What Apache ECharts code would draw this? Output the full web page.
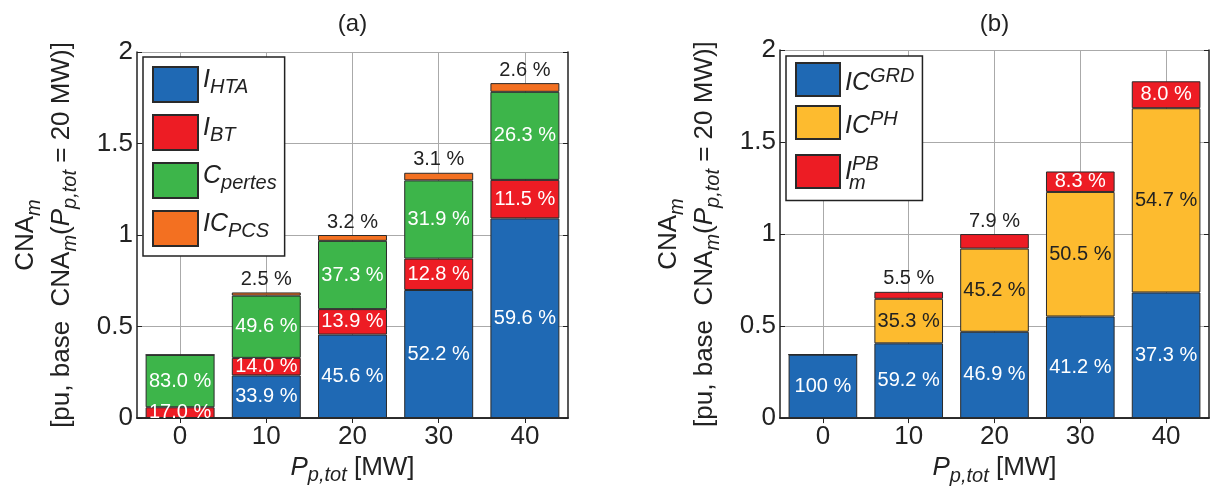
<!DOCTYPE html>
<html><head><meta charset="utf-8">
<script src="https://cdn.jsdelivr.net/npm/echarts@6/dist/echarts.min.js"></script>
<style>html,body{margin:0;padding:0;background:#fff}#c{width:1210px;height:494px}</style>
</head><body><div id="c"></div>
<script>
// ---------- data ----------
const categories = ['0', '10', '20', '30', '40'];           // P_p,tot [MW]
const totals = [0.345, 0.686, 1.0, 1.34, 1.83];              // CNA_m total (pu)
// panel (a) shares in %
const pctHTA    = [0, 33.9, 45.6, 52.2, 59.6];
const pctBT     = [17.0, 14.0, 13.9, 12.8, 11.5];
const pctPertes = [83.0, 49.6, 37.3, 31.9, 26.3];
const pctPCS    = [0, 2.5, 3.2, 3.1, 2.6];
// panel (b) shares in %
const pctGRD = [100, 59.2, 46.9, 41.2, 37.3];
const pctPH  = [0, 35.3, 45.2, 50.5, 54.7];
const pctPB  = [0, 5.5, 7.9, 8.3, 8.0];
const yMin = 0, yMax = 2, yStep = 0.5;
const titles = ['(a)', '(b)'];

// ---------- style ----------
const FONT = '"Liberation Sans", Arial, Helvetica, sans-serif';
const TXT = '#222';
const C = { blue: '#1f69b4', red: '#ed1c24', green: '#3db54a', orange: '#f37021', yellow: '#fdbb2f' };

function fmt(p) { return (p >= 100 ? p.toFixed(0) : p.toFixed(1)) + ' %'; }

function makeSeries(name, pcts, color, gi, opts) {
  opts = opts || {};
  return {
    name: name, type: 'bar', stack: 'g' + gi, xAxisIndex: gi * 2, yAxisIndex: gi * 2,
    barWidth: '80%',
    itemStyle: { color: color, borderColor: '#2a2a2a', borderWidth: 1 },
    emphasis: { disabled: true },
    data: pcts.map(function (p, i) {
      const v = totals[i] * p / 100;
      const onTop = opts.top && v < 0.1;
      return {
        value: v,
        label: {
          show: p > 0, position: onTop ? 'top' : 'inside', distance: 3,
          color: (onTop || opts.dark) ? TXT : '#fff',
          fontSize: 20, fontFamily: FONT, formatter: fmt(p)
        }
      };
    })
  };
}

const axisNameRichY = {
  b: { fontSize: 26, fontFamily: FONT, color: TXT, lineHeight: 36 },
  bi: { fontSize: 26, fontFamily: FONT, color: TXT, lineHeight: 36, fontStyle: 'italic' },
  sub: { fontSize: 20, fontFamily: FONT, color: TXT, lineHeight: 6, verticalAlign: 'bottom', fontStyle: 'italic' }
};
const axisNameRichX = {
  b: { fontSize: 26, fontFamily: FONT, color: TXT, lineHeight: 28, padding: [0, 0, 8, 0] },
  bi: { fontSize: 26, fontFamily: FONT, color: TXT, lineHeight: 28, padding: [0, 0, 8, 0], fontStyle: 'italic' },
  sub: { fontSize: 20, fontFamily: FONT, color: TXT, lineHeight: 20, verticalAlign: 'bottom', fontStyle: 'italic' }
};
const yName = '{b|CNA}{sub|m}\n{b|[pu, base  CNA}{sub|m}{b|(}{bi|P}{sub|p,tot}{b| = 20 MW)]}';
const xName = '{bi|P}{sub|p,tot}{b| [MW]}';

const grids = [
  { left: 137, top: 52, width: 431, height: 366 },
  { left: 780, top: 50, width: 429, height: 372 }
];
const xNameGaps = [34, 33];

const axisLine = { show: true, lineStyle: { color: '#222', width: 1.5 } };
const tick = { show: true, inside: true, length: 5, alignWithLabel: true, lineStyle: { color: '#222', width: 1 } };
const xAxes = [], yAxes = [];
grids.forEach(function (g, gi) {
  xAxes.push({
    gridIndex: gi, type: 'category', data: categories, position: 'bottom',
    axisLine: axisLine, axisTick: tick,
    axisLabel: { fontSize: 26, fontFamily: FONT, color: TXT, margin: 6 },
    splitLine: { show: true, alignWithLabel: true, lineStyle: { color: '#aaa', width: 1 } },
    name: xName, nameLocation: 'middle', nameGap: xNameGaps[gi],
    nameTextStyle: { rich: axisNameRichX }
  });
  xAxes.push({
    gridIndex: gi, type: 'category', data: categories, position: 'top',
    axisLine: axisLine, axisTick: tick, axisLabel: { show: false }, splitLine: { show: false }
  });
  yAxes.push({
    gridIndex: gi, type: 'value', min: yMin, max: yMax, interval: yStep, position: 'left',
    axisLine: axisLine, axisTick: { show: true, inside: true, length: 5, lineStyle: { color: '#222' } },
    axisLabel: { fontSize: 26, fontFamily: FONT, color: TXT, margin: 4 },
    splitLine: { show: true, lineStyle: { color: '#aaa', width: 1 } },
    name: yName, nameLocation: 'middle', nameRotate: 90, nameGap: 57,
    nameTextStyle: { rich: axisNameRichY }
  });
  yAxes.push({
    gridIndex: gi, type: 'value', min: yMin, max: yMax, interval: yStep, position: 'right',
    axisLine: axisLine, axisTick: { show: true, inside: true, length: 5, lineStyle: { color: '#222' } },
    axisLabel: { show: false }, splitLine: { show: false }
  });
});

const series = [
  makeSeries('I_HTA', pctHTA, C.blue, 0),
  makeSeries('I_BT', pctBT, C.red, 0),
  makeSeries('C_pertes', pctPertes, C.green, 0),
  makeSeries('IC_PCS', pctPCS, C.orange, 0, { top: true }),
  makeSeries('IC_GRD', pctGRD, C.blue, 1),
  makeSeries('IC_PH', pctPH, C.yellow, 1, { dark: true }),
  makeSeries('I_PB', pctPB, C.red, 1, { top: true })
];

const legendLabels = {
  'I_HTA': '{b|I}{sub|HTA}',
  'I_BT': '{b|I}{sub|BT}',
  'C_pertes': '{b|C}{sub|pertes}',
  'IC_PCS': '{b|IC}{sub|PCS}',
  'IC_GRD': '{b|IC}{sup|GRD}',
  'IC_PH': '{b|IC}{sup|PH}',
  'I_PB': '{b2|I}{sup|PB}\n{m|m}'
};

const legendBase = {
  orient: 'vertical', icon: 'rect', selectedMode: false,
  backgroundColor: '#fff', borderColor: '#222', borderWidth: 1.5,
  formatter: function (n) { return legendLabels[n]; }
};
const legendA = Object.assign({}, legendBase, {
  left: 143, top: 57, padding: [9, 8, 9, 9], itemWidth: 45, itemHeight: 35, itemGap: 11,
  data: ['I_HTA', 'I_BT', 'C_pertes', 'IC_PCS'],
  textStyle: { rich: {
    b: { fontSize: 25, fontFamily: FONT, color: TXT, fontStyle: 'italic', lineHeight: 26, padding: [0, 0, 8, 0] },
    sub: { fontSize: 20, fontFamily: FONT, color: TXT, fontStyle: 'italic', lineHeight: 12, verticalAlign: 'bottom' }
  } }
});
const legendB = Object.assign({}, legendBase, {
  left: 786, top: 56, padding: [6, 8, 7, 9], itemWidth: 44, itemHeight: 33, itemGap: 8,
  data: ['IC_GRD', 'IC_PH', 'I_PB'],
  textStyle: { rich: {
    b: { fontSize: 25, fontFamily: FONT, color: TXT, fontStyle: 'italic', lineHeight: 26, padding: [8, 0, 0, 0] },
    b2: { fontSize: 25, fontFamily: FONT, color: TXT, fontStyle: 'italic', lineHeight: 24, padding: [12, 0, 0, 0] },
    sup: { fontSize: 20, fontFamily: FONT, color: TXT, fontStyle: 'italic', lineHeight: 22, verticalAlign: 'top' },
    m: { fontSize: 20, fontFamily: FONT, color: TXT, fontStyle: 'italic', lineHeight: 10, padding: [0, 0, 0, 4] }
  } }
});

const option = {
  animation: false,
  backgroundColor: '#fff',
  title: grids.map(function (g, gi) {
    return { text: titles[gi], left: g.left + g.width / 2, textAlign: 'center', top: 12, padding: 0,
      textStyle: { fontSize: 24, fontWeight: 'normal', fontFamily: FONT, color: TXT } };
  }),
  grid: grids,
  xAxis: xAxes,
  yAxis: yAxes,
  legend: [legendA, legendB],
  series: series
};

const chart = echarts.init(document.getElementById('c'), null, { renderer: 'canvas' });
chart.setOption(option);
</script>
</body></html>
